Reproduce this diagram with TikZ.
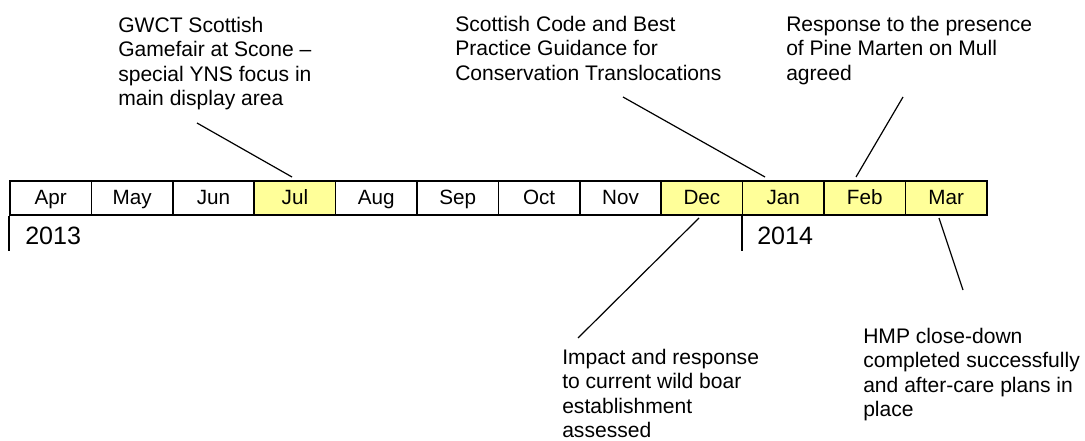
\documentclass[tikz,border=0pt]{standalone}
\usepackage{fontspec}
\setmainfont{Liberation Sans}
\definecolor{cellyellow}{RGB}{255,255,153}

\begin{document}
\begin{tikzpicture}[x=0.75pt,y=-0.75pt,
    cell/.style={draw,line width=1.2pt,minimum width=61.05pt,minimum height=25.5pt,
      inner sep=0pt,text height=13pt,text depth=2.5pt,font=\fontsize{15.5}{18}\selectfont},
    note/.style={anchor=north west,align=left,inner sep=0pt,font=\fontsize{15.8}{18.4}\selectfont},
    year/.style={anchor=base west,inner sep=0pt,font=\fontsize{18.8}{22}\selectfont},
    callout/.style={line width=0.9pt}]
  \useasboundingbox (0,0) rectangle (1085,441);
  % the months
  \foreach \m/\f [count=\i] in {Apr/white,May/white,Jun/white,Jul/cellyellow,Aug/white,Sep/white,
      Oct/white,Nov/white,Dec/cellyellow,Jan/cellyellow,Feb/cellyellow,Mar/cellyellow}
    \node[cell,fill=\f] (m\i) at ({10+81.4*(\i-0.5)},198) {\m};
  % year markers
  \draw[line width=1.2pt] (m1.south west) -- ++(0,35);
  \node[year] (y2013) at (25,245) {2013};
  \draw[line width=1.2pt] (m10.south west) -- ++(0,35);
  \node[year] (y2014) at (757,245) {2014};
  % the notes
  \node[note] (gwct) at (118,16.5) {GWCT Scottish\\Gamefair at Scone --\\special YNS focus in\\main display area};
  \node[note] (code) at (455,15.5) {Scottish Code and Best\\Practice Guidance for\\Conservation Translocations};
  \node[note] (marten) at (786,15.5) {Response to the presence\\of Pine Marten on Mull\\agreed};
  \node[note] (boar) at (562,348.5) {Impact and response\\to current wild boar\\establishment\\assessed};
  \node[note] (hmp) at (863,327.5) {HMP close-down\\completed successfully\\and after-care plans in\\place};
  % callout ends
  \coordinate (gwct-tip) at (197,123);
  \coordinate (jul-tip) at (292,177);
  \coordinate (code-tip) at (623,97);
  \coordinate (jan-tip) at (765,177);
  \coordinate (marten-tip) at (903,97);
  \coordinate (feb-tip) at (856,177);
  \coordinate (dec-tip) at (699,218);
  \coordinate (boar-tip) at (578,338);
  \coordinate (mar-tip) at (939,218);
  \coordinate (hmp-tip) at (963,290);
  \draw[callout] (gwct-tip) -- (jul-tip);
  \draw[callout] (code-tip) -- (jan-tip);
  \draw[callout] (marten-tip) -- (feb-tip);
  \draw[callout] (dec-tip) -- (boar-tip);
  \draw[callout] (mar-tip) -- (hmp-tip);
\end{tikzpicture}
\end{document}
